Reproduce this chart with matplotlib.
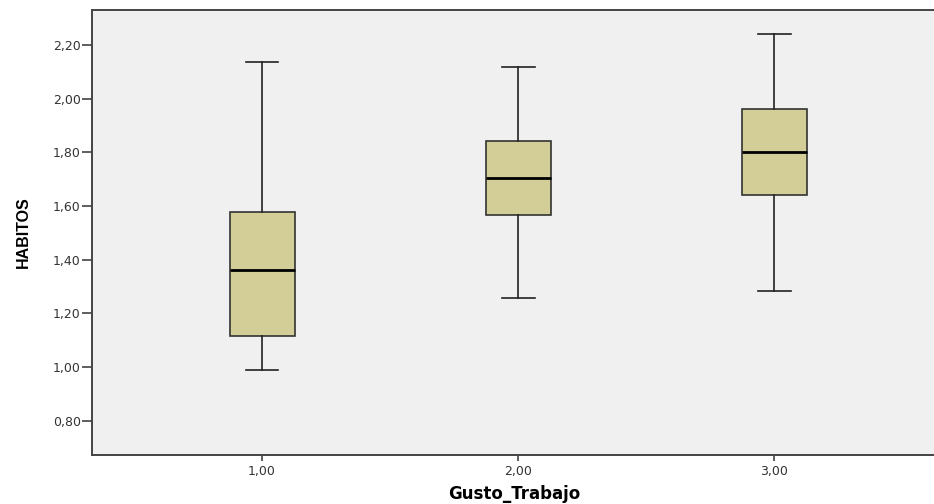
import matplotlib
matplotlib.use("Agg")
import matplotlib.pyplot as plt
from matplotlib.ticker import FuncFormatter

categories = [1.0, 2.0, 3.0]
whislo = [0.990, 1.257, 1.284]
q1 = [1.115, 1.566, 1.641]
med = [1.361, 1.703, 1.800]
q3 = [1.578, 1.841, 1.960]
whishi = [2.137, 2.118, 2.240]
yticks = [0.80, 1.00, 1.20, 1.40, 1.60, 1.80, 2.00, 2.20]

fig = plt.figure(figsize=(9.34, 5.04), dpi=100)
ax = fig.add_axes([92/934, 49/504, 1 - 92/934 + 0.002, (455-10)/504])
ax.set_facecolor("#F0F0F0")

stats = []
for i in range(len(categories)):
    stats.append(dict(whislo=whislo[i], q1=q1[i], med=med[i], q3=q3[i],
                      whishi=whishi[i], fliers=[]))

ax.bxp(stats, positions=categories, widths=0.254, patch_artist=True,
       showfliers=False,
       boxprops=dict(facecolor="#D3CE97", edgecolor="#333333", linewidth=1.2),
       whiskerprops=dict(color="#222222", linewidth=1.2),
       capprops=dict(color="#222222", linewidth=1.2),
       medianprops=dict(color="#000000", linewidth=2.0))

ax.set_xlim(0.336, 3.63)
ax.set_ylim(0.673, 2.330)
ax.set_yticks(yticks)
ax.set_xticks(categories)
fmt = FuncFormatter(lambda v, p: f"{v:.2f}".replace(".", ","))
ax.yaxis.set_major_formatter(fmt)
ax.xaxis.set_major_formatter(fmt)

for s in ax.spines.values():
    s.set_color("#444444")
    s.set_linewidth(1.4)
ax.spines["right"].set_visible(False)

ax.tick_params(axis="y", length=7.5, width=1.1, color="#333333", pad=0.5,
               labelsize=9, labelcolor="#333333")
ax.tick_params(axis="x", length=4.5, width=1.1, color="#333333", pad=3,
               labelsize=9, labelcolor="#333333")

ax.set_xlabel("Gusto_Trabajo", fontsize=12, fontweight="bold",
              family=["DejaVu Sans"], labelpad=5)
ax.set_ylabel("HABITOS", fontsize=11.5, fontweight="bold",
              family=["Liberation Sans", "DejaVu Sans"])
ax.yaxis.set_label_coords((31 - 92) / 842, 0.5)

fig.savefig("out.png", dpi=100)
